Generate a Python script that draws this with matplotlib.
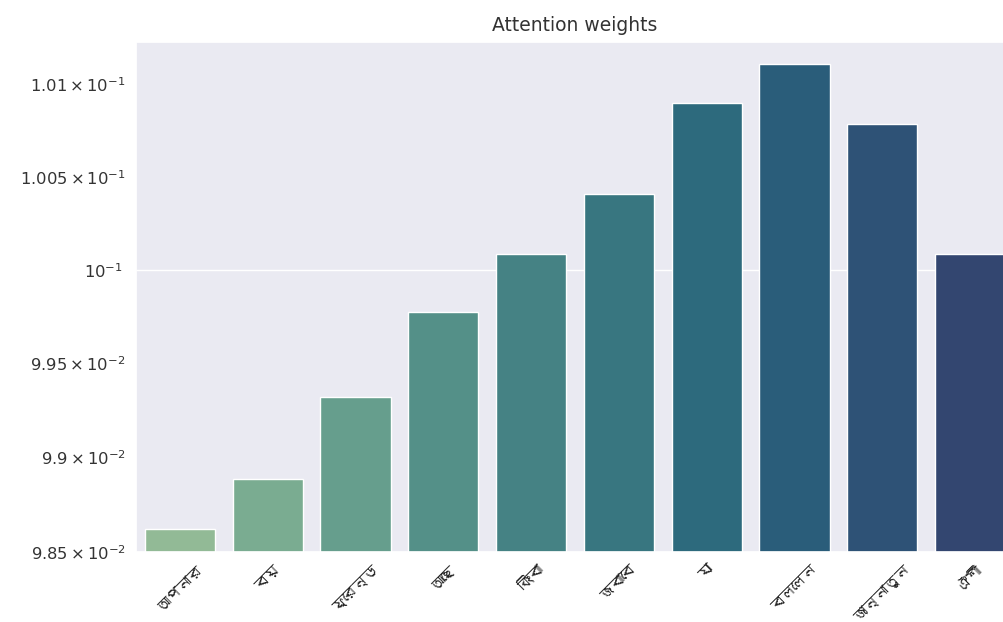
import matplotlib
matplotlib.use("Agg")
import matplotlib.pyplot as plt
from matplotlib import font_manager
from matplotlib.ft2font import FT2Font
import seaborn as sns

words = ["আপনার", "বয়", "ফ্রেন্ড", "আছে", "কিংবা", "জবাবে", "যা", "বললেন", "জান্নাতুন", "ঐশী"]
weights = [0.09862, 0.098885, 0.099324, 0.099773, 0.100086,
           0.10041, 0.10090, 0.10111, 0.100785, 0.100086]

sns.set_theme(style="darkgrid")
plt.rcParams["text.color"] = "#333333"
plt.rcParams["ytick.color"] = "#333333"
plt.rcParams["xtick.color"] = "#222222"


def bengali_font():
    for f in font_manager.fontManager.ttflist:
        try:
            if 0x0986 in FT2Font(f.fname).get_charmap():
                return f.name
        except Exception:
            continue
    return None


bn = bengali_font()
families = ([bn] if bn else []) + ["DejaVu Sans"]

fig = plt.figure(figsize=(10.04, 6.22), dpi=100)
ax = fig.add_axes([0.1355, 0.1125, 0.8745, 0.82])

colors = [sns.desaturate(c, 0.75) for c in sns.color_palette("crest", len(words))]
x = range(len(words))
ax.bar(x, weights, width=0.8, color=colors, edgecolor="white", linewidth=1)

ax.set_yscale("log")
ax.set_ylim(0.0985, 0.10123)
ax.set_xlim(-0.5, len(words) - 0.5)
ax.xaxis.grid(False)
ax.tick_params(axis="y", which="both", labelsize=11.8)
ax.tick_params(axis="x", pad=2)
ax.set_xticks(list(x))
ax.set_xticklabels(words, rotation=45, family=families, fontsize=10.5)
ax.set_title("Attention weights", fontsize=13.5, pad=8)

fig.savefig("out.png", dpi=100)
